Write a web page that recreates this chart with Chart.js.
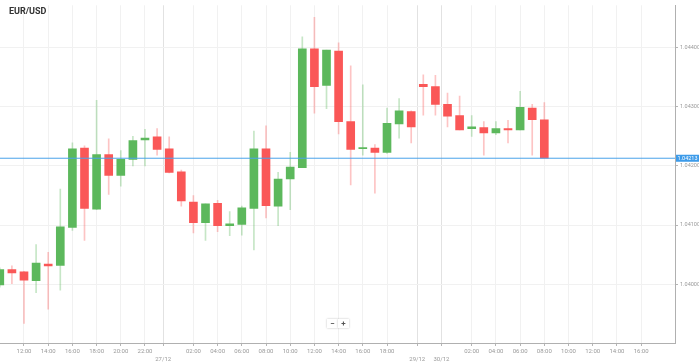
<!DOCTYPE html>
<html>
<head>
<meta charset="utf-8">
<script src="https://cdn.jsdelivr.net/npm/chart.js@4.4.1/dist/chart.umd.min.js"></script>
<style>
    html, body { margin: 0; padding: 0; background: #fff; }
    #wrap { position: relative; width: 699px; height: 362px; }
    #title { position: absolute; left: 9px; top: 6px; font: bold 9px Roboto, sans-serif; color: #333; }
    #zoomBtns { position: absolute; left: 327px; top: 319px; display: flex; }
    #zoomBtns span { width: 11px; height: 9px; background: #fff; box-shadow: 0 0 2px rgba(0,0,0,0.25); font: bold 8px Roboto, sans-serif; line-height: 9px; text-align: center; color: #555; }
</style>
</head>
<body>
<div id="wrap">
    <canvas id="chart"></canvas>
    <div id="title">EUR/USD</div>
    <div id="zoomBtns"><span>−</span><span>+</span></div>
</div>
<script>
// hourly candles, x = hour slot (26/12 00:00 = 0, weekend gap removed)
const hours = [10, 11, 12, 13, 14, 15, 16, 17, 18, 19, 20, 21, 22, 23, 24, 25, 26, 27, 28, 29, 30, 31, 32,
    33, 34, 35, 36, 37, 38, 39, 40, 41, 42, 43, 44, 45, 46, 47, 48, 49, 50, 51, 52, 53, 54, 55];
const opens = [1.03999, 1.04025, 1.04021, 1.04006, 1.04034, 1.04032, 1.04096, 1.04230, 1.04127, 1.04219, 1.04184,
    1.04211, 1.04244, 1.04249, 1.04229, 1.04190, 1.04139, 1.04104, 1.04137, 1.04099, 1.04101, 1.04128, 1.04229,
    1.04132, 1.04178, 1.04197, 1.04398, 1.04336, 1.04394, 1.04275, 1.04229, 1.04230, 1.04223, 1.04271, 1.04292,
    1.04338, 1.04334, 1.04304, 1.04285, 1.04263, 1.04265, 1.04256, 1.04263, 1.04261, 1.04298, 1.04278];
const highs = [1.04028, 1.04031, 1.04022, 1.04067, 1.04054, 1.04161, 1.04239, 1.04234, 1.04311, 1.04246, 1.04226,
    1.04250, 1.04262, 1.04263, 1.04249, 1.04193, 1.04150, 1.04136, 1.04142, 1.04123, 1.04132, 1.04259, 1.04268,
    1.04189, 1.04223, 1.04418, 1.04451, 1.04396, 1.04408, 1.04369, 1.04337, 1.04236, 1.04298, 1.04314, 1.04293,
    1.04354, 1.04353, 1.04323, 1.04318, 1.04285, 1.04275, 1.04275, 1.04277, 1.04326, 1.04304, 1.04307];
const lows = [1.03995, 1.04001, 1.03934, 1.03986, 1.03958, 1.03990, 1.04091, 1.04074, 1.04126, 1.04152, 1.04166,
    1.04200, 1.04200, 1.04218, 1.04188, 1.04132, 1.04087, 1.04074, 1.04089, 1.04082, 1.04083, 1.04058, 1.04112,
    1.04099, 1.04126, 1.04197, 1.04289, 1.04297, 1.04254, 1.04168, 1.04218, 1.04154, 1.04221, 1.04247, 1.04239,
    1.04286, 1.04286, 1.04266, 1.04261, 1.04250, 1.04218, 1.04253, 1.04239, 1.04261, 1.04218, 1.04213];
const closes = [1.04025, 1.04019, 1.04007, 1.04036, 1.04031, 1.04097, 1.04229, 1.04128, 1.04219, 1.04184, 1.04211,
    1.04243, 1.04247, 1.04228, 1.04189, 1.04141, 1.04104, 1.04136, 1.04099, 1.04102, 1.04129, 1.04229, 1.04133,
    1.04178, 1.04198, 1.04398, 1.04334, 1.04396, 1.04275, 1.04228, 1.04231, 1.04223, 1.04272, 1.04293, 1.04266,
    1.04334, 1.04304, 1.04284, 1.04261, 1.04266, 1.04256, 1.04263, 1.04261, 1.04299, 1.04278, 1.04213];

const xTickValues = [12, 14, 16, 18, 20, 22, 23.5, 26, 28, 30, 32, 34, 36, 38, 40, 42, 44.5, 46.5,
    49, 51, 53, 55, 57, 59, 61, 63];
const xTickLabels = ['12:00', '14:00', '16:00', '18:00', '20:00', '22:00', ['', '27/12'], '02:00', '04:00',
    '06:00', '08:00', '10:00', '12:00', '14:00', '16:00', '18:00', ['', '29/12'], ['', '30/12'],
    '02:00', '04:00', '06:00', '08:00', '10:00', '12:00', '14:00', '16:00'];
const dayBreaks = [23.5, 44.5, 46.5];
const yTickValues = [1.040, 1.041, 1.042, 1.043, 1.044];

const lastPrice = closes[closes.length - 1];
const priceLineX = [10, 66];

const GREEN = '#5cb85c';
const RED = '#fa5757';
const GREEN_WICK = 'rgba(92,184,92,0.35)';
const RED_WICK = 'rgba(250,87,87,0.35)';

const isUp = opens.map((o, i) => closes[i] >= o);

const priceTag = {
    id: 'priceTag',
    afterDraw(chart) {
        const ctx = chart.ctx;
        const y = chart.scales.y.getPixelForValue(lastPrice);
        const left = chart.chartArea.right + 1;
        ctx.save();
        ctx.fillStyle = '#3d9be9';
        ctx.fillRect(left, y - 3.5, chart.width - left, 7);
        ctx.fillStyle = '#fff';
        ctx.font = '5.5px Roboto';
        ctx.textAlign = 'center';
        ctx.textBaseline = 'middle';
        ctx.fillText(lastPrice.toFixed(5), (left + chart.width) / 2, y + 0.5);
        ctx.restore();
    }
};

Chart.defaults.font.family = 'Roboto';

new Chart(document.getElementById('chart'), {
    type: 'bar',
    data: {
        datasets: [
            {
                type: 'line',
                data: priceLineX.map(x => ({ x, y: lastPrice })),
                borderColor: '#4aa3ea',
                borderWidth: 1,
                pointRadius: 0,
                order: 0
            },
            {
                data: hours.map((h, i) => ({ x: h, y: [opens[i], closes[i]] })),
                backgroundColor: isUp.map(up => up ? GREEN : RED),
                barThickness: 8,
                grouped: false,
                order: 1
            },
            {
                data: hours.map((h, i) => ({ x: h, y: [lows[i], highs[i]] })),
                backgroundColor: isUp.map(up => up ? GREEN_WICK : RED_WICK),
                barThickness: 1,
                grouped: false,
                order: 2
            }
        ]
    },
    options: {
        responsive: true,
        maintainAspectRatio: false,
        animation: false,
        devicePixelRatio: 1,
        layout: { padding: 0 },
        plugins: { legend: { display: false }, tooltip: { enabled: false } },
        scales: {
            x: {
                type: 'linear',
                min: 10.017,
                max: 65.8,
                offset: false,
                afterBuildTicks: scale => { scale.ticks = xTickValues.map(v => ({ value: v })); },
                afterFit: scale => { scale.height = 19; },
                grid: {
                    offset: false,
                    color: ctx => dayBreaks.includes(ctx.tick && ctx.tick.value) ? '#e2e2e2' : '#f1f1f1',
                    tickColor: '#b5b5b5',
                    tickLength: 3
                },
                border: { color: '#b0b0b0' },
                ticks: {
                    autoSkip: false,
                    maxRotation: 0,
                    padding: 1,
                    color: '#999',
                    font: { size: 6, lineHeight: 1.35 },
                    callback: (v, i) => xTickLabels[i]
                }
            },
            y: {
                position: 'right',
                min: 1.0390075,
                max: 1.044715,
                beginAtZero: false,
                afterBuildTicks: scale => { scale.ticks = yTickValues.map(v => ({ value: v })); },
                afterFit: scale => { scale.width = 24; },
                grid: { color: '#f1f1f1', tickColor: '#b5b5b5', tickLength: 3 },
                border: { color: '#b0b0b0' },
                ticks: {
                    padding: 2,
                    color: '#999',
                    font: { size: 5.5 },
                    callback: v => v.toFixed(5)
                }
            }
        }
    },
    plugins: [priceTag]
});
</script>
</body>
</html>
